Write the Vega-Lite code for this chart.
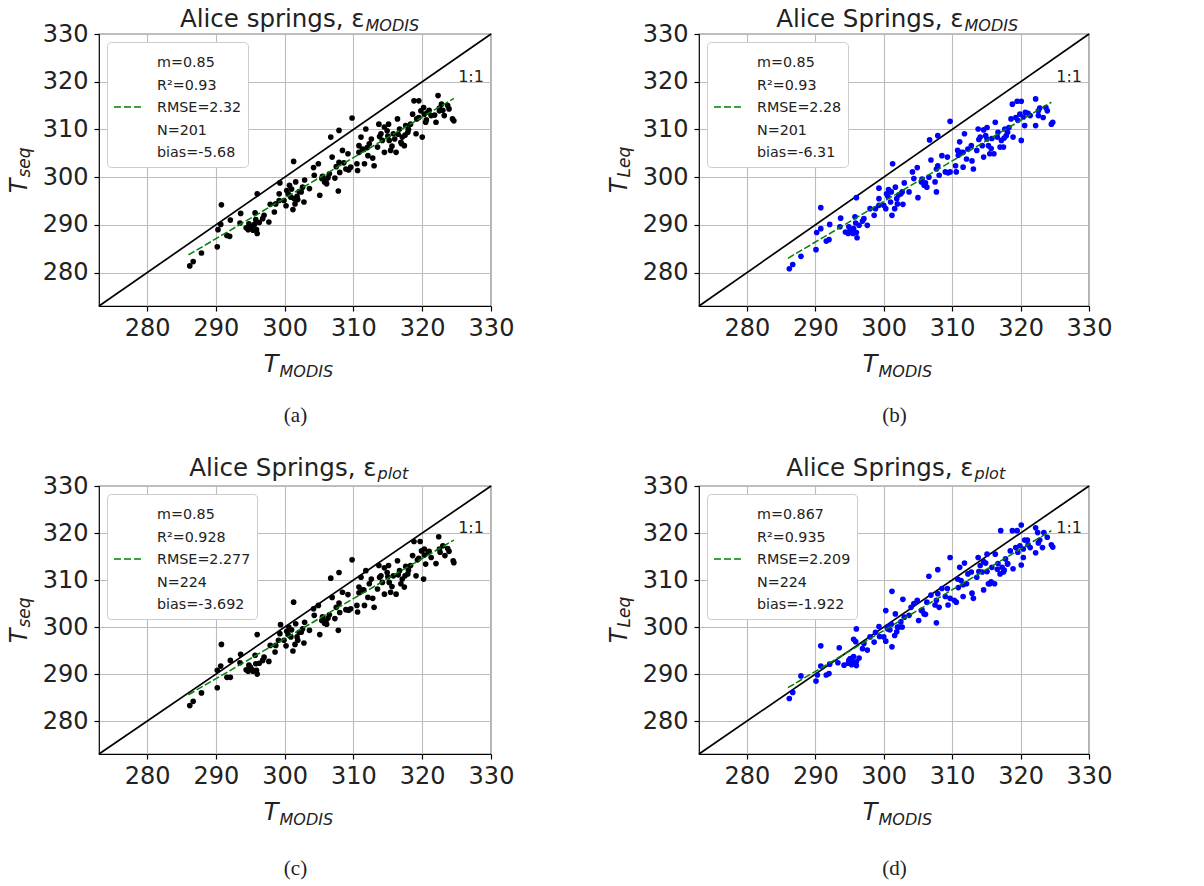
{
"$schema":"https://vega.github.io/schema/vega-lite/v6.json",
"padding":{"left":6,"top":5,"right":5,"bottom":5},
"background":"white",
"config":{"font":"DejaVu Sans","view":{"stroke":"black","strokeWidth":1.2},
"axis":{"domain":false,"grid":false,"labelFont":"DejaVu Sans","labelFontSize":24,"labelColor":"#222","labelFlush":false,"labelOverlap":false,"tickColor":"black","tickSize":5,"tickWidth":1.2,"labelPadding":5,"gridColor":"#bcbcbc","gridWidth":1.1,"titleColor":"#222","titleFont":"DejaVu Sans","titleFontWeight":"normal","titlePadding":0}},
"datasets":{
"one":[{"x":273,"y":273},{"x":330,"y":330}],
"t11":[{"x":327.1,"y":321,"t":"1:1"}],
"fa":[{"x":286.0,"y":283.7,"lab":"m=0.85|R²=0.93|RMSE=2.32|N=201|bias=-5.68"},{"x":324.6,"y":316.5,"lab":"m=0.85|R²=0.93|RMSE=2.32|N=201|bias=-5.68"}],
"fb":[{"x":286.0,"y":283.0,"lab":"m=0.85|R²=0.93|RMSE=2.28|N=201|bias=-6.31"},{"x":324.5,"y":315.7,"lab":"m=0.85|R²=0.93|RMSE=2.28|N=201|bias=-6.31"}],
"fc":[{"x":286.0,"y":285.6,"lab":"m=0.85|R²=0.928|RMSE=2.277|N=224|bias=-3.692"},{"x":324.6,"y":318.5,"lab":"m=0.85|R²=0.928|RMSE=2.277|N=224|bias=-3.692"}],
"fd":[{"x":286.0,"y":287.1,"lab":"m=0.867|R²=0.935|RMSE=2.209|N=224|bias=-1.922"},{"x":324.5,"y":320.5,"lab":"m=0.867|R²=0.935|RMSE=2.209|N=224|bias=-1.922"}],
"a":[{"x":286.2,"y":281.4},{"x":286.7,"y":282.3},{"x":287.9,"y":284.1},{"x":290.2,"y":285.4},{"x":290.3,"y":289.0},{"x":290.8,"y":294.2},{"x":290.7,"y":290.1},{"x":291.6,"y":287.8},{"x":292.0,"y":287.6},{"x":292.1,"y":291.0},{"x":293.6,"y":292.4},{"x":293.5,"y":290.4},{"x":294.4,"y":289.4},{"x":294.7,"y":289.0},{"x":295.0,"y":289.7},{"x":295.4,"y":288.9},{"x":295.6,"y":290.1},{"x":295.8,"y":291.1},{"x":296.0,"y":288.2},{"x":296.0,"y":296.5},{"x":295.7,"y":292.5},{"x":296.8,"y":291.3},{"x":297.0,"y":292.0},{"x":297.7,"y":290.6},{"x":297.9,"y":294.3},{"x":298.5,"y":292.7},{"x":298.7,"y":294.4},{"x":299.2,"y":296.5},{"x":299.3,"y":298.8},{"x":299.2,"y":295.1},{"x":299.9,"y":295.1},{"x":300.3,"y":297.2},{"x":300.7,"y":298.3},{"x":300.9,"y":295.8},{"x":301.2,"y":293.2},{"x":301.3,"y":303.3},{"x":301.5,"y":294.4},{"x":301.6,"y":299.0},{"x":301.9,"y":295.3},{"x":302.4,"y":296.9},{"x":302.6,"y":297.9},{"x":302.8,"y":294.8},{"x":302.9,"y":299.4},{"x":303.6,"y":297.6},{"x":304.2,"y":302.0},{"x":304.3,"y":300.4},{"x":304.9,"y":302.8},{"x":305.1,"y":296.2},{"x":305.4,"y":299.7},{"x":305.8,"y":299.0},{"x":306.1,"y":298.6},{"x":306.5,"y":300.7},{"x":306.7,"y":308.4},{"x":306.9,"y":304.2},{"x":307.3,"y":299.8},{"x":307.5,"y":302.2},{"x":307.8,"y":297.1},{"x":307.9,"y":309.8},{"x":307.9,"y":303.1},{"x":308.4,"y":305.6},{"x":308.9,"y":301.7},{"x":309.2,"y":304.9},{"x":309.6,"y":302.1},{"x":309.8,"y":312.4},{"x":310.5,"y":302.8},{"x":310.6,"y":301.4},{"x":310.8,"y":306.6},{"x":311.1,"y":308.4},{"x":311.3,"y":305.9},{"x":311.6,"y":302.8},{"x":311.8,"y":310.1},{"x":312.1,"y":304.5},{"x":312.3,"y":307.0},{"x":312.6,"y":308.0},{"x":313.0,"y":302.4},{"x":313.5,"y":306.3},{"x":313.7,"y":311.1},{"x":314.0,"y":309.1},{"x":314.2,"y":307.7},{"x":314.5,"y":305.2},{"x":314.9,"y":309.7},{"x":315.1,"y":311.1},{"x":315.2,"y":307.7},{"x":315.4,"y":305.6},{"x":315.8,"y":309.1},{"x":316.2,"y":305.2},{"x":316.4,"y":312.2},{"x":316.7,"y":310.1},{"x":316.9,"y":307.3},{"x":317.1,"y":308.4},{"x":317.4,"y":306.6},{"x":317.6,"y":310.8},{"x":317.9,"y":309.4},{"x":318.3,"y":311.1},{"x":318.6,"y":313.2},{"x":318.8,"y":316.0},{"x":319.1,"y":309.1},{"x":319.2,"y":312.2},{"x":319.5,"y":316.0},{"x":319.8,"y":313.9},{"x":320.0,"y":308.4},{"x":320.2,"y":314.6},{"x":320.5,"y":311.5},{"x":320.8,"y":313.6},{"x":321.3,"y":312.9},{"x":322.0,"y":311.5},{"x":322.3,"y":317.1},{"x":322.5,"y":313.9},{"x":322.8,"y":315.3},{"x":323.2,"y":312.9},{"x":323.7,"y":315.0},{"x":323.9,"y":314.3},{"x":324.4,"y":312.2},{"x":324.6,"y":311.8},{"x":294.8,"y":290.2},{"x":295.2,"y":289.3},{"x":295.9,"y":289.0},{"x":296.3,"y":290.5},{"x":300.5,"y":296.5},{"x":301.0,"y":297.5},{"x":301.8,"y":296.0},{"x":302.1,"y":297.0},{"x":300.2,"y":294.0},{"x":301.4,"y":295.5},{"x":305.5,"y":300.2},{"x":306.0,"y":299.3},{"x":306.3,"y":299.9},{"x":313.8,"y":308.5},{"x":314.5,"y":310.5},{"x":315.0,"y":308.6},{"x":315.6,"y":306.5},{"x":316.0,"y":308.0},{"x":316.5,"y":309.0},{"x":317.0,"y":307.0},{"x":317.5,"y":308.8},{"x":318.0,"y":310.0},{"x":319.5,"y":312.5},{"x":320.3,"y":313.2},{"x":320.6,"y":312.0},{"x":321.0,"y":314.0},{"x":321.8,"y":313.0},{"x":322.5,"y":314.5},{"x":323.0,"y":314.0},{"x":310.8,"y":305.2},{"x":311.5,"y":305.8},{"x":312.0,"y":306.2},{"x":312.8,"y":304.0},{"x":308.0,"y":301.0},{"x":308.6,"y":303.0},{"x":309.3,"y":301.5}],
"b":[{"x":286.2,"y":280.8},{"x":286.7,"y":281.7},{"x":287.9,"y":283.4},{"x":290.1,"y":284.8},{"x":290.2,"y":288.4},{"x":290.8,"y":293.6},{"x":290.8,"y":289.2},{"x":291.6,"y":286.6},{"x":292.0,"y":286.9},{"x":292.1,"y":290.1},{"x":293.7,"y":291.4},{"x":293.6,"y":289.6},{"x":294.4,"y":288.5},{"x":294.8,"y":288.2},{"x":295.1,"y":289.0},{"x":295.5,"y":288.2},{"x":295.6,"y":289.2},{"x":295.9,"y":290.4},{"x":296.1,"y":287.3},{"x":296.0,"y":295.7},{"x":295.8,"y":291.7},{"x":296.9,"y":290.8},{"x":297.1,"y":291.3},{"x":297.6,"y":289.9},{"x":298.0,"y":293.4},{"x":298.6,"y":292.0},{"x":298.8,"y":293.4},{"x":299.3,"y":295.5},{"x":299.3,"y":297.7},{"x":299.3,"y":294.1},{"x":300.0,"y":294.1},{"x":300.4,"y":296.5},{"x":300.7,"y":297.4},{"x":301.0,"y":294.8},{"x":301.2,"y":292.0},{"x":301.3,"y":302.8},{"x":301.6,"y":293.4},{"x":301.7,"y":297.9},{"x":302.0,"y":294.4},{"x":302.5,"y":296.5},{"x":302.7,"y":296.9},{"x":302.8,"y":294.3},{"x":303.0,"y":298.8},{"x":303.7,"y":296.9},{"x":304.2,"y":301.1},{"x":304.4,"y":299.7},{"x":304.9,"y":302.0},{"x":305.0,"y":295.7},{"x":305.5,"y":299.0},{"x":305.9,"y":298.3},{"x":306.3,"y":297.9},{"x":306.6,"y":300.0},{"x":306.7,"y":307.8},{"x":306.9,"y":303.6},{"x":307.5,"y":299.0},{"x":307.7,"y":301.7},{"x":307.7,"y":296.9},{"x":307.9,"y":308.7},{"x":307.9,"y":302.4},{"x":308.5,"y":304.5},{"x":309.0,"y":301.1},{"x":309.3,"y":304.2},{"x":309.7,"y":301.1},{"x":309.7,"y":311.7},{"x":310.5,"y":302.4},{"x":310.6,"y":301.1},{"x":310.8,"y":305.6},{"x":311.1,"y":307.4},{"x":311.3,"y":305.2},{"x":311.6,"y":302.1},{"x":311.8,"y":309.1},{"x":312.1,"y":303.8},{"x":312.3,"y":305.9},{"x":312.8,"y":306.6},{"x":313.1,"y":301.7},{"x":313.6,"y":305.6},{"x":313.8,"y":310.1},{"x":314.1,"y":308.4},{"x":314.4,"y":306.6},{"x":314.6,"y":304.2},{"x":314.9,"y":308.7},{"x":315.1,"y":310.4},{"x":315.3,"y":306.6},{"x":315.5,"y":304.9},{"x":315.8,"y":308.1},{"x":316.1,"y":304.9},{"x":316.3,"y":311.5},{"x":316.7,"y":309.4},{"x":317.0,"y":306.3},{"x":317.2,"y":307.7},{"x":317.5,"y":306.3},{"x":317.7,"y":310.1},{"x":317.9,"y":308.7},{"x":318.3,"y":310.4},{"x":318.6,"y":312.2},{"x":318.8,"y":315.3},{"x":318.9,"y":308.4},{"x":319.3,"y":312.5},{"x":319.5,"y":315.9},{"x":319.9,"y":313.2},{"x":320.1,"y":307.7},{"x":320.1,"y":315.9},{"x":320.6,"y":310.8},{"x":320.7,"y":313.6},{"x":321.4,"y":312.9},{"x":322.2,"y":310.8},{"x":322.2,"y":316.4},{"x":322.6,"y":312.9},{"x":322.8,"y":314.5},{"x":323.3,"y":312.5},{"x":323.7,"y":314.6},{"x":323.9,"y":313.9},{"x":324.5,"y":311.1},{"x":324.7,"y":311.5},{"x":294.9,"y":289.6},{"x":295.3,"y":288.6},{"x":296.0,"y":288.4},{"x":296.4,"y":289.9},{"x":300.6,"y":296.0},{"x":301.1,"y":296.9},{"x":301.9,"y":295.5},{"x":302.2,"y":296.3},{"x":300.3,"y":293.4},{"x":305.6,"y":299.6},{"x":306.1,"y":298.8},{"x":313.9,"y":307.9},{"x":314.6,"y":309.9},{"x":315.1,"y":308.0},{"x":315.7,"y":306.0},{"x":316.6,"y":308.4},{"x":317.6,"y":308.2},{"x":318.1,"y":309.4},{"x":319.6,"y":311.9},{"x":320.4,"y":312.6},{"x":321.1,"y":313.4},{"x":322.6,"y":313.9},{"x":310.9,"y":304.6},{"x":311.6,"y":305.2},{"x":312.9,"y":303.4},{"x":308.1,"y":300.4},{"x":309.4,"y":300.9}],
"c":[{"x":286.2,"y":283.3},{"x":286.7,"y":284.2},{"x":287.9,"y":286.0},{"x":290.2,"y":287.1},{"x":290.2,"y":290.8},{"x":290.8,"y":296.3},{"x":290.7,"y":291.7},{"x":291.6,"y":289.3},{"x":292.1,"y":289.3},{"x":292.1,"y":292.9},{"x":293.6,"y":294.2},{"x":293.5,"y":292.4},{"x":294.4,"y":290.9},{"x":294.7,"y":290.6},{"x":295.0,"y":291.5},{"x":295.4,"y":290.6},{"x":295.8,"y":292.2},{"x":296.0,"y":290.0},{"x":296.0,"y":298.4},{"x":295.7,"y":294.0},{"x":296.8,"y":292.9},{"x":297.0,"y":293.6},{"x":297.7,"y":292.7},{"x":297.9,"y":296.1},{"x":298.6,"y":294.7},{"x":298.7,"y":296.1},{"x":299.3,"y":298.6},{"x":299.4,"y":300.5},{"x":299.1,"y":297.2},{"x":299.9,"y":297.2},{"x":300.3,"y":299.1},{"x":300.6,"y":300.0},{"x":300.9,"y":297.9},{"x":301.2,"y":294.9},{"x":301.3,"y":305.3},{"x":301.5,"y":296.3},{"x":301.6,"y":300.7},{"x":301.9,"y":297.2},{"x":302.4,"y":298.9},{"x":302.6,"y":299.6},{"x":302.8,"y":296.6},{"x":302.9,"y":301.0},{"x":303.6,"y":299.3},{"x":304.2,"y":303.9},{"x":304.3,"y":302.5},{"x":304.9,"y":304.6},{"x":305.1,"y":298.4},{"x":305.4,"y":301.4},{"x":305.8,"y":300.8},{"x":306.1,"y":300.6},{"x":306.5,"y":302.6},{"x":306.7,"y":310.4},{"x":306.9,"y":306.3},{"x":307.3,"y":301.8},{"x":307.5,"y":304.2},{"x":307.8,"y":299.3},{"x":307.9,"y":311.6},{"x":307.9,"y":305.1},{"x":308.4,"y":307.4},{"x":308.9,"y":303.7},{"x":309.2,"y":306.9},{"x":309.6,"y":303.9},{"x":309.8,"y":314.3},{"x":310.5,"y":304.6},{"x":310.6,"y":303.2},{"x":310.8,"y":308.5},{"x":311.1,"y":310.6},{"x":311.3,"y":307.9},{"x":311.6,"y":304.6},{"x":311.8,"y":312.0},{"x":312.1,"y":306.3},{"x":312.3,"y":309.2},{"x":312.6,"y":310.2},{"x":313.0,"y":304.2},{"x":313.5,"y":308.1},{"x":313.7,"y":313.1},{"x":314.0,"y":310.9},{"x":314.2,"y":309.5},{"x":314.5,"y":307.0},{"x":314.9,"y":311.6},{"x":315.1,"y":313.1},{"x":315.2,"y":309.5},{"x":315.4,"y":307.4},{"x":315.8,"y":310.9},{"x":316.2,"y":307.0},{"x":316.4,"y":314.1},{"x":316.7,"y":312.0},{"x":316.9,"y":309.2},{"x":317.1,"y":310.2},{"x":317.4,"y":308.5},{"x":317.6,"y":312.9},{"x":317.9,"y":311.3},{"x":318.3,"y":313.1},{"x":318.6,"y":315.2},{"x":318.8,"y":318.2},{"x":319.1,"y":310.9},{"x":319.3,"y":314.3},{"x":319.7,"y":318.2},{"x":319.9,"y":316.2},{"x":320.2,"y":310.2},{"x":320.3,"y":316.6},{"x":320.5,"y":313.4},{"x":320.9,"y":315.9},{"x":321.3,"y":314.8},{"x":322.0,"y":313.5},{"x":322.4,"y":319.2},{"x":322.6,"y":315.9},{"x":323.0,"y":317.3},{"x":323.3,"y":315.2},{"x":323.7,"y":316.7},{"x":323.9,"y":316.1},{"x":324.5,"y":314.1},{"x":324.6,"y":313.7},{"x":294.8,"y":291.9},{"x":295.2,"y":291.0},{"x":295.9,"y":290.8},{"x":296.3,"y":292.3},{"x":300.5,"y":298.4},{"x":301.0,"y":299.4},{"x":301.8,"y":297.9},{"x":302.1,"y":298.9},{"x":300.2,"y":296.0},{"x":305.5,"y":302.2},{"x":306.0,"y":301.3},{"x":306.3,"y":301.9},{"x":313.8,"y":310.6},{"x":314.5,"y":312.6},{"x":315.0,"y":310.7},{"x":315.6,"y":308.6},{"x":316.5,"y":311.1},{"x":317.5,"y":310.9},{"x":318.0,"y":312.1},{"x":319.5,"y":314.6},{"x":320.3,"y":315.3},{"x":321.0,"y":316.1},{"x":322.5,"y":316.6},{"x":310.8,"y":307.3},{"x":311.5,"y":307.9},{"x":312.8,"y":306.1},{"x":308.0,"y":303.1},{"x":309.3,"y":303.6}],
"d":[{"x":286.2,"y":284.8},{"x":286.7,"y":286.1},{"x":287.9,"y":289.6},{"x":290.1,"y":288.5},{"x":290.3,"y":289.8},{"x":290.8,"y":296.0},{"x":290.8,"y":291.7},{"x":291.6,"y":289.8},{"x":292.0,"y":290.1},{"x":292.1,"y":292.1},{"x":293.5,"y":295.6},{"x":293.3,"y":292.4},{"x":294.2,"y":291.9},{"x":294.8,"y":292.3},{"x":295.1,"y":293.3},{"x":295.5,"y":292.6},{"x":295.6,"y":293.7},{"x":295.9,"y":296.9},{"x":296.0,"y":292.6},{"x":296.0,"y":299.6},{"x":295.6,"y":297.4},{"x":296.9,"y":295.4},{"x":297.1,"y":296.5},{"x":297.6,"y":295.1},{"x":298.0,"y":297.9},{"x":298.6,"y":296.8},{"x":298.8,"y":298.9},{"x":299.3,"y":300.1},{"x":299.4,"y":298.0},{"x":300.0,"y":297.9},{"x":300.3,"y":303.5},{"x":300.5,"y":300.0},{"x":300.9,"y":299.4},{"x":301.2,"y":295.8},{"x":301.2,"y":307.6},{"x":301.6,"y":298.2},{"x":301.7,"y":302.8},{"x":302.0,"y":300.0},{"x":302.5,"y":301.1},{"x":302.7,"y":300.0},{"x":302.8,"y":305.9},{"x":303.0,"y":302.1},{"x":303.7,"y":302.5},{"x":304.0,"y":304.2},{"x":304.4,"y":305.0},{"x":304.9,"y":305.7},{"x":305.1,"y":301.4},{"x":305.5,"y":303.5},{"x":305.9,"y":302.8},{"x":306.3,"y":305.3},{"x":306.6,"y":310.8},{"x":306.9,"y":306.8},{"x":307.5,"y":304.7},{"x":307.7,"y":305.7},{"x":307.7,"y":300.9},{"x":307.9,"y":312.2},{"x":307.9,"y":307.1},{"x":308.5,"y":308.2},{"x":309.0,"y":306.5},{"x":309.3,"y":308.2},{"x":309.7,"y":306.1},{"x":309.7,"y":314.8},{"x":310.3,"y":305.7},{"x":310.6,"y":305.3},{"x":310.8,"y":310.2},{"x":311.1,"y":312.7},{"x":311.3,"y":309.9},{"x":311.6,"y":306.5},{"x":311.8,"y":313.6},{"x":312.1,"y":309.2},{"x":312.3,"y":311.3},{"x":312.8,"y":311.7},{"x":313.1,"y":306.1},{"x":313.6,"y":310.6},{"x":313.8,"y":314.8},{"x":314.1,"y":313.1},{"x":314.4,"y":311.7},{"x":314.6,"y":307.9},{"x":314.9,"y":313.6},{"x":315.1,"y":315.5},{"x":315.3,"y":309.2},{"x":315.5,"y":309.2},{"x":315.8,"y":312.7},{"x":316.2,"y":309.2},{"x":316.3,"y":315.5},{"x":316.7,"y":313.5},{"x":317.0,"y":311.3},{"x":317.1,"y":320.5},{"x":317.3,"y":312.7},{"x":317.5,"y":311.7},{"x":317.8,"y":314.5},{"x":318.1,"y":313.4},{"x":318.5,"y":316.2},{"x":318.8,"y":320.5},{"x":318.9,"y":312.4},{"x":319.3,"y":316.9},{"x":319.5,"y":320.5},{"x":319.9,"y":317.3},{"x":320.1,"y":321.7},{"x":320.1,"y":313.2},{"x":320.4,"y":314.8},{"x":320.6,"y":318.5},{"x":321.0,"y":318.5},{"x":321.4,"y":316.9},{"x":322.2,"y":321.1},{"x":322.2,"y":315.8},{"x":322.5,"y":320.1},{"x":322.8,"y":318.5},{"x":323.2,"y":316.9},{"x":323.4,"y":320.1},{"x":323.9,"y":319.1},{"x":324.5,"y":317.5},{"x":324.7,"y":317.0},{"x":294.9,"y":292.9},{"x":295.3,"y":292.0},{"x":296.0,"y":291.8},{"x":296.4,"y":293.4},{"x":300.6,"y":299.6},{"x":301.1,"y":300.6},{"x":301.9,"y":299.0},{"x":302.2,"y":300.0},{"x":300.3,"y":297.0},{"x":305.6,"y":303.6},{"x":306.1,"y":302.7},{"x":313.9,"y":311.8},{"x":314.6,"y":313.9},{"x":315.1,"y":311.8},{"x":315.7,"y":309.6},{"x":316.6,"y":312.3},{"x":317.6,"y":312.1},{"x":318.1,"y":313.5},{"x":319.6,"y":315.9},{"x":320.4,"y":316.6},{"x":321.1,"y":317.5},{"x":322.6,"y":317.9},{"x":310.9,"y":308.4},{"x":311.6,"y":309.0},{"x":312.9,"y":307.2},{"x":308.1,"y":304.2},{"x":309.4,"y":304.7}]
},
"concat":[
{"width":392,"height":272,"resolve":{"axis":{"x":"independent","y":"independent"}},
"layer":[
{"data":{"name":"one"},"mark":{"type":"line","color":"black","strokeWidth":1.7},
"encoding":{"x":{"field":"x","type":"quantitative","scale":{"domain":[273,330],"nice":false,"zero":false},"axis":{"orient":"bottom","grid":true,"values":[280,290,300,310,320,330],"title":"T","titleFontSize":24,"titleFontStyle":"italic","titleAlign":"right","titleBaseline":"alphabetic","titleX":179,"titleY":65,"titleAngle":0}},
"y":{"field":"y","type":"quantitative","scale":{"domain":[273,330],"nice":false,"zero":false},"axis":{"orient":"left","grid":true,"values":[280,290,300,310,320,330],"labelPadding":6,"title":"T","titleFontSize":24,"titleFontStyle":"italic","titleAlign":"right","titleBaseline":"alphabetic","titleX":-73,"titleY":144,"titleAngle":270}}}},
{"data":{"name":"a"},"mark":{"type":"circle","color":"black","opacity":1,"size":32},
"encoding":{"x":{"field":"x","type":"quantitative","scale":{"domain":[273,330],"nice":false,"zero":false},"axis":{"orient":"top","labels":false,"ticks":false,"title":"Alice springs, ε","titleFontSize":24.5,"titleAlign":"right","titleBaseline":"alphabetic","titleX":265,"titleY":-8,"titleAngle":0}},
"y":{"field":"y","type":"quantitative","scale":{"domain":[273,330],"nice":false,"zero":false},"axis":{"orient":"right","labels":false,"ticks":false,"title":"(a)","titleFont":"Liberation Serif","titleFontSize":21,"titleAlign":"center","titleBaseline":"alphabetic","titleX":-196,"titleY":387,"titleAngle":0}}}},
{"data":{"name":"fa"},"mark":{"type":"line","strokeWidth":1.5,"strokeDash":[7,2.5]},
"encoding":{"x":{"field":"x","type":"quantitative","scale":{"domain":[273,330],"nice":false,"zero":false},"axis":{"orient":"top","labels":false,"ticks":false,"title":"MODIS","titleFontSize":16,"titleFontStyle":"italic","titleAlign":"left","titleBaseline":"alphabetic","titleX":266,"titleY":-3.7,"titleAngle":0}},
"y":{"field":"y","type":"quantitative","scale":{"domain":[273,330],"nice":false,"zero":false},"axis":null},
"color":{"field":"lab","type":"nominal","scale":{"range":["green"]},"legend":{"orient":"top-left","offset":8,"title":null,"labelExpr":"split(datum.label,'|')","symbolType":"stroke","symbolSize":784,"symbolStrokeWidth":1.5,"symbolDash":[7,3],"labelFont":"DejaVu Sans","labelFontSize":14.3,"labelColor":"#222","labelOffset":14,"labelLimit":300,"fillColor":"white","strokeColor":"#cccccc","cornerRadius":4,"padding":6,"encode":{"labels":{"update":{"lineHeight":{"value":22.5}}},"symbols":{"update":{"y":{"value":59}}}}}}}},
{"data":{"name":"t11"},"mark":{"type":"text","fontSize":16,"color":"#222","align":"center","baseline":"middle"},
"encoding":{"text":{"field":"t"},"x":{"field":"x","type":"quantitative","scale":{"domain":[273,330],"nice":false,"zero":false},"axis":{"orient":"bottom","labels":false,"ticks":false,"title":"MODIS","titleFontSize":16,"titleFontStyle":"italic","titleAlign":"left","titleBaseline":"alphabetic","titleX":180,"titleY":70,"titleAngle":0}},
"y":{"field":"y","type":"quantitative","scale":{"domain":[273,330],"nice":false,"zero":false},"axis":{"orient":"left","labels":false,"ticks":false,"title":"seq","titleFontSize":17,"titleFontStyle":"italic","titleAlign":"left","titleBaseline":"alphabetic","titleX":-70,"titleY":143,"titleAngle":270}}}}
]},
{"width":390,"height":272,"resolve":{"axis":{"x":"independent","y":"independent"}},
"layer":[
{"data":{"name":"one"},"mark":{"type":"line","color":"black","strokeWidth":1.7},
"encoding":{"x":{"field":"x","type":"quantitative","scale":{"domain":[273,330],"nice":false,"zero":false},"axis":{"orient":"bottom","grid":true,"values":[280,290,300,310,320,330],"title":"T","titleFontSize":24,"titleFontStyle":"italic","titleAlign":"right","titleBaseline":"alphabetic","titleX":178,"titleY":65,"titleAngle":0}},
"y":{"field":"y","type":"quantitative","scale":{"domain":[273,330],"nice":false,"zero":false},"axis":{"orient":"left","grid":true,"values":[280,290,300,310,320,330],"labelPadding":6,"title":"T","titleFontSize":24,"titleFontStyle":"italic","titleAlign":"right","titleBaseline":"alphabetic","titleX":-73,"titleY":144,"titleAngle":270}}}},
{"data":{"name":"b"},"mark":{"type":"circle","color":"blue","opacity":1,"size":32},
"encoding":{"x":{"field":"x","type":"quantitative","scale":{"domain":[273,330],"nice":false,"zero":false},"axis":{"orient":"top","labels":false,"ticks":false,"title":"Alice Springs, ε","titleFontSize":24.5,"titleAlign":"right","titleBaseline":"alphabetic","titleX":264,"titleY":-8,"titleAngle":0}},
"y":{"field":"y","type":"quantitative","scale":{"domain":[273,330],"nice":false,"zero":false},"axis":{"orient":"right","labels":false,"ticks":false,"title":"(b)","titleFont":"Liberation Serif","titleFontSize":21,"titleAlign":"center","titleBaseline":"alphabetic","titleX":-195,"titleY":387,"titleAngle":0}}}},
{"data":{"name":"fb"},"mark":{"type":"line","strokeWidth":1.5,"strokeDash":[7,2.5]},
"encoding":{"x":{"field":"x","type":"quantitative","scale":{"domain":[273,330],"nice":false,"zero":false},"axis":{"orient":"top","labels":false,"ticks":false,"title":"MODIS","titleFontSize":16,"titleFontStyle":"italic","titleAlign":"left","titleBaseline":"alphabetic","titleX":265,"titleY":-3.7,"titleAngle":0}},
"y":{"field":"y","type":"quantitative","scale":{"domain":[273,330],"nice":false,"zero":false},"axis":null},
"color":{"field":"lab","type":"nominal","scale":{"range":["green"]},"legend":{"orient":"top-left","offset":8,"title":null,"labelExpr":"split(datum.label,'|')","symbolType":"stroke","symbolSize":784,"symbolStrokeWidth":1.5,"symbolDash":[7,3],"labelFont":"DejaVu Sans","labelFontSize":14.3,"labelColor":"#222","labelOffset":14,"labelLimit":300,"fillColor":"white","strokeColor":"#cccccc","cornerRadius":4,"padding":6,"encode":{"labels":{"update":{"lineHeight":{"value":22.5}}},"symbols":{"update":{"y":{"value":59}}}}}}}},
{"data":{"name":"t11"},"mark":{"type":"text","fontSize":16,"color":"#222","align":"center","baseline":"middle"},
"encoding":{"text":{"field":"t"},"x":{"field":"x","type":"quantitative","scale":{"domain":[273,330],"nice":false,"zero":false},"axis":{"orient":"bottom","labels":false,"ticks":false,"title":"MODIS","titleFontSize":16,"titleFontStyle":"italic","titleAlign":"left","titleBaseline":"alphabetic","titleX":179,"titleY":70,"titleAngle":0}},
"y":{"field":"y","type":"quantitative","scale":{"domain":[273,330],"nice":false,"zero":false},"axis":{"orient":"left","labels":false,"ticks":false,"title":"Leq","titleFontSize":17,"titleFontStyle":"italic","titleAlign":"left","titleBaseline":"alphabetic","titleX":-70,"titleY":143,"titleAngle":270}}}}
]},
{"width":392,"height":268,"resolve":{"axis":{"x":"independent","y":"independent"}},
"layer":[
{"data":{"name":"one"},"mark":{"type":"line","color":"black","strokeWidth":1.7},
"encoding":{"x":{"field":"x","type":"quantitative","scale":{"domain":[273,330],"nice":false,"zero":false},"axis":{"orient":"bottom","grid":true,"values":[280,290,300,310,320,330],"title":"T","titleFontSize":24,"titleFontStyle":"italic","titleAlign":"right","titleBaseline":"alphabetic","titleX":179,"titleY":65,"titleAngle":0}},
"y":{"field":"y","type":"quantitative","scale":{"domain":[273,330],"nice":false,"zero":false},"axis":{"orient":"left","grid":true,"values":[280,290,300,310,320,330],"labelPadding":6,"title":"T","titleFontSize":24,"titleFontStyle":"italic","titleAlign":"right","titleBaseline":"alphabetic","titleX":-73,"titleY":142,"titleAngle":270}}}},
{"data":{"name":"c"},"mark":{"type":"circle","color":"black","opacity":1,"size":32},
"encoding":{"x":{"field":"x","type":"quantitative","scale":{"domain":[273,330],"nice":false,"zero":false},"axis":{"orient":"top","labels":false,"ticks":false,"title":"Alice Springs, ε","titleFontSize":24.5,"titleAlign":"right","titleBaseline":"alphabetic","titleX":277,"titleY":-11,"titleAngle":0}},
"y":{"field":"y","type":"quantitative","scale":{"domain":[273,330],"nice":false,"zero":false},"axis":{"orient":"right","labels":false,"ticks":false,"title":"(c)","titleFont":"Liberation Serif","titleFontSize":21,"titleAlign":"center","titleBaseline":"alphabetic","titleX":-196,"titleY":388,"titleAngle":0}}}},
{"data":{"name":"fc"},"mark":{"type":"line","strokeWidth":1.5,"strokeDash":[7,2.5]},
"encoding":{"x":{"field":"x","type":"quantitative","scale":{"domain":[273,330],"nice":false,"zero":false},"axis":{"orient":"top","labels":false,"ticks":false,"title":"plot","titleFontSize":16,"titleFontStyle":"italic","titleAlign":"left","titleBaseline":"alphabetic","titleX":278,"titleY":-7.7,"titleAngle":0}},
"y":{"field":"y","type":"quantitative","scale":{"domain":[273,330],"nice":false,"zero":false},"axis":null},
"color":{"field":"lab","type":"nominal","scale":{"range":["green"]},"legend":{"orient":"top-left","offset":8,"title":null,"labelExpr":"split(datum.label,'|')","symbolType":"stroke","symbolSize":784,"symbolStrokeWidth":1.5,"symbolDash":[7,3],"labelFont":"DejaVu Sans","labelFontSize":14.3,"labelColor":"#222","labelOffset":14,"labelLimit":300,"fillColor":"white","strokeColor":"#cccccc","cornerRadius":4,"padding":6,"encode":{"labels":{"update":{"lineHeight":{"value":22.5}}},"symbols":{"update":{"y":{"value":59}}}}}}}},
{"data":{"name":"t11"},"mark":{"type":"text","fontSize":16,"color":"#222","align":"center","baseline":"middle"},
"encoding":{"text":{"field":"t"},"x":{"field":"x","type":"quantitative","scale":{"domain":[273,330],"nice":false,"zero":false},"axis":{"orient":"bottom","labels":false,"ticks":false,"title":"MODIS","titleFontSize":16,"titleFontStyle":"italic","titleAlign":"left","titleBaseline":"alphabetic","titleX":180,"titleY":70,"titleAngle":0}},
"y":{"field":"y","type":"quantitative","scale":{"domain":[273,330],"nice":false,"zero":false},"axis":{"orient":"left","labels":false,"ticks":false,"title":"seq","titleFontSize":17,"titleFontStyle":"italic","titleAlign":"left","titleBaseline":"alphabetic","titleX":-70,"titleY":141,"titleAngle":270}}}}
]},
{"width":390,"height":268,"resolve":{"axis":{"x":"independent","y":"independent"}},
"layer":[
{"data":{"name":"one"},"mark":{"type":"line","color":"black","strokeWidth":1.7},
"encoding":{"x":{"field":"x","type":"quantitative","scale":{"domain":[273,330],"nice":false,"zero":false},"axis":{"orient":"bottom","grid":true,"values":[280,290,300,310,320,330],"title":"T","titleFontSize":24,"titleFontStyle":"italic","titleAlign":"right","titleBaseline":"alphabetic","titleX":178,"titleY":65,"titleAngle":0}},
"y":{"field":"y","type":"quantitative","scale":{"domain":[273,330],"nice":false,"zero":false},"axis":{"orient":"left","grid":true,"values":[280,290,300,310,320,330],"labelPadding":6,"title":"T","titleFontSize":24,"titleFontStyle":"italic","titleAlign":"right","titleBaseline":"alphabetic","titleX":-73,"titleY":142,"titleAngle":270}}}},
{"data":{"name":"d"},"mark":{"type":"circle","color":"blue","opacity":1,"size":32},
"encoding":{"x":{"field":"x","type":"quantitative","scale":{"domain":[273,330],"nice":false,"zero":false},"axis":{"orient":"top","labels":false,"ticks":false,"title":"Alice Springs, ε","titleFontSize":24.5,"titleAlign":"right","titleBaseline":"alphabetic","titleX":274,"titleY":-11,"titleAngle":0}},
"y":{"field":"y","type":"quantitative","scale":{"domain":[273,330],"nice":false,"zero":false},"axis":{"orient":"right","labels":false,"ticks":false,"title":"(d)","titleFont":"Liberation Serif","titleFontSize":21,"titleAlign":"center","titleBaseline":"alphabetic","titleX":-195,"titleY":388,"titleAngle":0}}}},
{"data":{"name":"fd"},"mark":{"type":"line","strokeWidth":1.5,"strokeDash":[7,2.5]},
"encoding":{"x":{"field":"x","type":"quantitative","scale":{"domain":[273,330],"nice":false,"zero":false},"axis":{"orient":"top","labels":false,"ticks":false,"title":"plot","titleFontSize":16,"titleFontStyle":"italic","titleAlign":"left","titleBaseline":"alphabetic","titleX":275,"titleY":-7.7,"titleAngle":0}},
"y":{"field":"y","type":"quantitative","scale":{"domain":[273,330],"nice":false,"zero":false},"axis":null},
"color":{"field":"lab","type":"nominal","scale":{"range":["green"]},"legend":{"orient":"top-left","offset":8,"title":null,"labelExpr":"split(datum.label,'|')","symbolType":"stroke","symbolSize":784,"symbolStrokeWidth":1.5,"symbolDash":[7,3],"labelFont":"DejaVu Sans","labelFontSize":14.3,"labelColor":"#222","labelOffset":14,"labelLimit":300,"fillColor":"white","strokeColor":"#cccccc","cornerRadius":4,"padding":6,"encode":{"labels":{"update":{"lineHeight":{"value":22.5}}},"symbols":{"update":{"y":{"value":59}}}}}}}},
{"data":{"name":"t11"},"mark":{"type":"text","fontSize":16,"color":"#222","align":"center","baseline":"middle"},
"encoding":{"text":{"field":"t"},"x":{"field":"x","type":"quantitative","scale":{"domain":[273,330],"nice":false,"zero":false},"axis":{"orient":"bottom","labels":false,"ticks":false,"title":"MODIS","titleFontSize":16,"titleFontStyle":"italic","titleAlign":"left","titleBaseline":"alphabetic","titleX":179,"titleY":70,"titleAngle":0}},
"y":{"field":"y","type":"quantitative","scale":{"domain":[273,330],"nice":false,"zero":false},"axis":{"orient":"left","labels":false,"ticks":false,"title":"Leq","titleFontSize":17,"titleFontStyle":"italic","titleAlign":"left","titleBaseline":"alphabetic","titleX":-70,"titleY":141,"titleAngle":270}}}}
]}
],
"columns":2,
"spacing":{"row":180,"column":208},
"bounds":"flush",
"resolve":{"scale":{"color":"independent"}}
}
